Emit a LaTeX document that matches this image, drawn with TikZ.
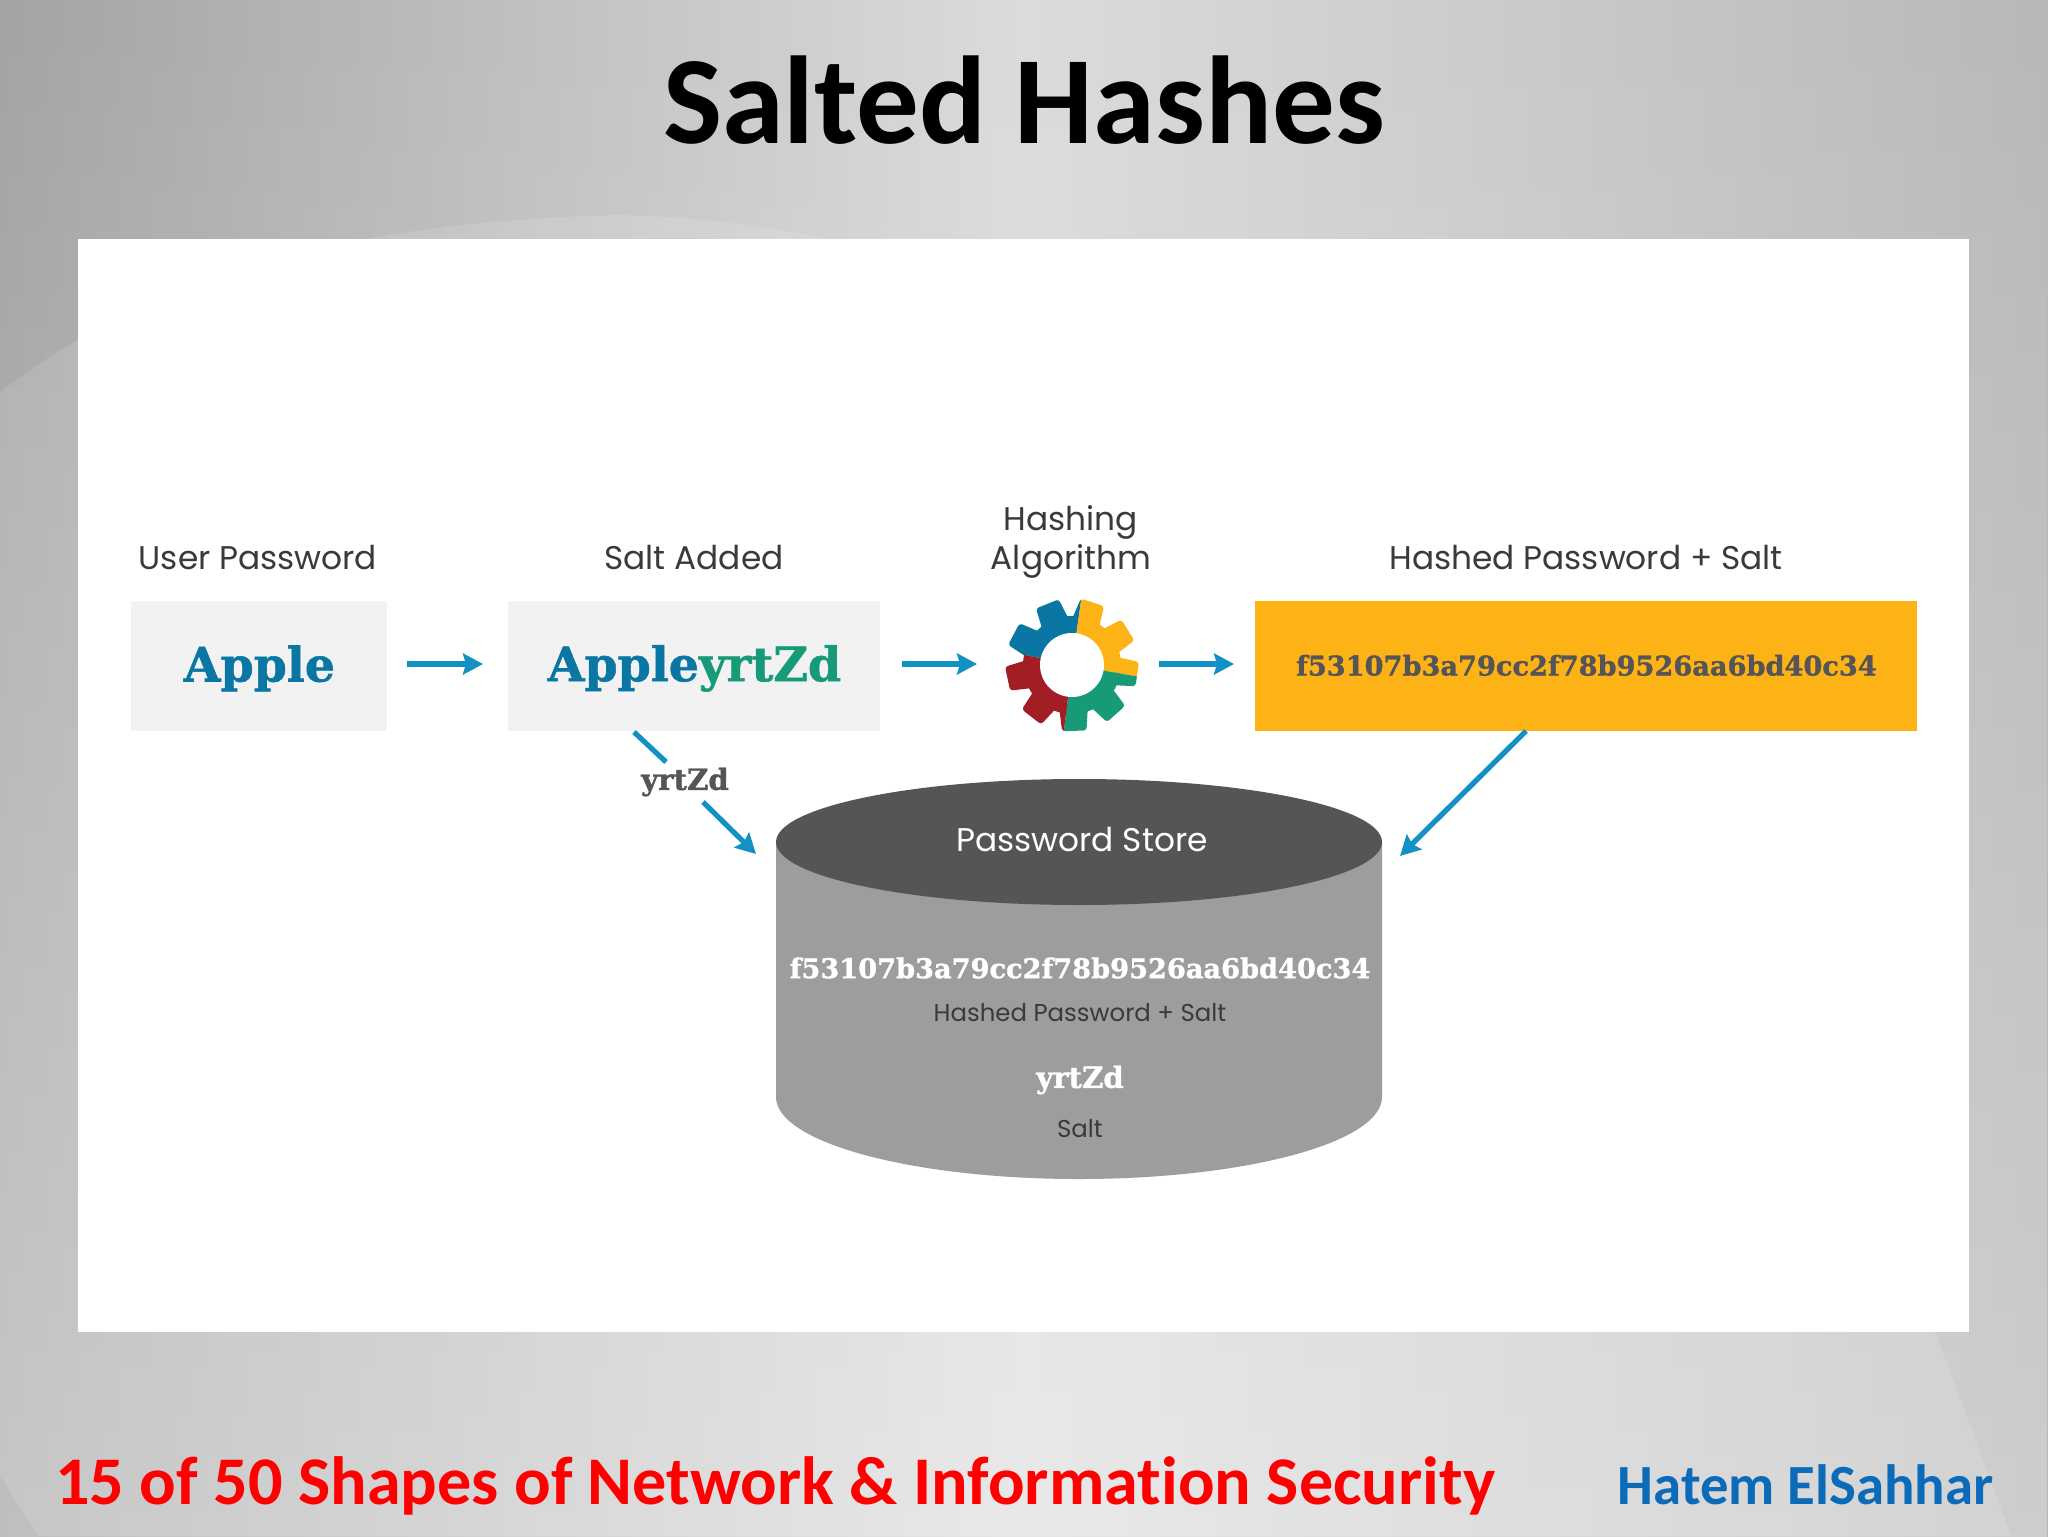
\documentclass[tikz,border=0pt]{standalone}
\usepackage{fontspec}
\setmainfont[Ligatures=NoCommon]{Carlito}
\newfontfamily\labfont{Poppins}
\newfontfamily\slabfont[BoldFeatures={FakeBold=1.2}]{DejaVu Serif}
\usetikzlibrary{arrows.meta,fadings}
\definecolor{arrowblue}{HTML}{1292C4}
\definecolor{appleblue}{HTML}{0A76A4}
\definecolor{saltgreen}{HTML}{169A78}
\definecolor{boxgrey}{HTML}{F2F2F3}
\definecolor{hashyellow}{HTML}{FDB316}
\definecolor{cyldark}{HTML}{555557}
\definecolor{cylside}{HTML}{9D9C9F}
\definecolor{gearred}{HTML}{A31D24}
\definecolor{labeltext}{HTML}{3A3A3C}
\definecolor{footblue}{HTML}{0B6BB8}
\tikzset{
 x=0.5pt,y=-0.5pt,
 lab/.style={font=\labfont\fontsize{16.4}{19.6}\selectfont,text=labeltext,align=center,inner sep=0pt},
 smalllab/.style={font=\labfont\fontsize{12.2}{14}\selectfont,text=labeltext,align=center,inner sep=0pt},
 slab/.style={font=\slabfont\bfseries\fontsize{23.7}{28}\selectfont,inner sep=0pt},
 hash/.style={font=\slabfont\bfseries\fontsize{13.6}{16}\selectfont,inner sep=0pt},
 shortslab/.style={font=\slabfont\bfseries\fontsize{14.6}{17}\selectfont,inner sep=0pt},
 pbox/.style={fill=boxgrey,draw=none,inner sep=0pt,anchor=north west},
 flow/.style={draw=arrowblue,line width=2.6pt,-{Stealth[length=10pt,width=10.5pt,inset=1.5pt]}},
 flowplain/.style={draw=arrowblue,line width=2.6pt},
}
\newcommand{\gearsector}[3]{%
  \begin{scope}
    \clip (0,0) -- (#1:100) -- ({(#1+#2)/2}:160) -- (#2:100) -- cycle;
    \fill[#3] (0,0) circle[radius=24.5pt];
    \foreach \a in {72,32,-8,-48,-88,-128,-168,152,112}{%
      \fill[#3,rounded corners=1.5pt] (\a-18:46) -- (\a-10.5:67) -- (\a+10.5:67) -- (\a+18:46) -- cycle;
    }%
  \end{scope}%
}
\begin{document}
\begin{tikzpicture}
\useasboundingbox (0,0) rectangle (2048,1536);
% background
\shade[left color=black!36,right color=black!28,middle color=black!14] (0,0) rectangle (2048,1536);
\fill[white,opacity=.13] (0,392) .. controls (120,300) and (300,222) .. (620,215) .. controls (900,222) and (1150,320) .. (1500,600) .. controls (1750,820) and (1850,1100) .. (2011,1536) -- (39,1536) .. controls (20,1510) and (10,1490) .. (0,1476) -- cycle;
\fill[white,path fading=north,opacity=.3] (0,0) rectangle (2048,1536);
% panel
\fill[white] (78,239) rectangle (1969,1332);
% title
\node[inner sep=0pt,font=\bfseries\fontsize{62.5}{66}\selectfont,text=black] (title) at (1024,100) {Salted Hashes};
% labels
\node[lab] (lu) at (258,558) {User Password};
\node[lab] (ls) at (694,558) {Salt Added};
\node[lab] (lh) at (1071,542) {Hashing\\Algorithm};
\node[lab] (lr) at (1586,558) {Hashed Password + Salt};
% boxes
\node[pbox,minimum width=128pt,minimum height=65pt] (apple) at (131,601) {};
\node[pbox,minimum width=186pt,minimum height=65pt] (salted) at (508,601) {};
\node[pbox,fill=hashyellow,minimum width=331pt,minimum height=65pt] (hashed) at (1255,601) {};
\node[slab,text=appleblue,yshift=-1pt] (t1) at (apple.center) {Apple};
\node[slab,text=appleblue,yshift=-1pt] (t2) at (salted.center) {Apple\textcolor{saltgreen}{yrtZd}};
\node[hash,text=cyldark,yshift=.5pt] (t3) at (hashed.center) {f53107b3a79cc2f78b9526aa6bd40c34};
% gear
\coordinate (gear) at (1072,665);
\begin{scope}[shift={(gear)},yscale=-1]
  \gearsector{82}{168}{appleblue}
  \gearsector{-10}{82}{hashyellow}
  \gearsector{-97}{-10}{saltgreen}
  \gearsector{-192}{-97}{gearred}
  \fill[white] (0,0) circle[radius=16pt];
\end{scope}
% store
\coordinate (storetop) at (1079,842);
\path[fill=cylside] (776,842) -- (776,1097) arc[start angle=180,end angle=360,x radius=151.5pt,y radius=41pt] -- (1382,842) -- cycle;
\fill[cyldark] (storetop) ellipse[x radius=151.5pt,y radius=31.5pt];
\node[lab,text=white] (st) at (1082,839) {Password Store};
\node[hash,text=white] (h2) at (1080,968) {f53107b3a79cc2f78b9526aa6bd40c34};
\node[smalllab] (h2l) at (1080,1013) {Hashed Password + Salt};
\node[shortslab,text=white] (s2) at (1080,1080) {yrtZd};
\node[smalllab] (s2l) at (1080,1129) {Salt};
\node[shortslab,text=cyldark] (y) at (685,782) {yrtZd};
% connectors
\coordinate (ua) at (407,664); \coordinate (ub) at (483,664);
\coordinate (va) at (902,664); \coordinate (vb) at (977,664);
\coordinate (wa) at (1159,664); \coordinate (wb) at (1234,664);
\coordinate (ya) at (634,732); \coordinate (yb) at (666,762);
\coordinate (yc) at (703,802); \coordinate (yd) at (756,854);
\coordinate (za) at (1526,731); \coordinate (zb) at (1400,856);
\draw[flow] (ua) -- (ub);
\draw[flow] (va) -- (vb);
\draw[flow] (wa) -- (wb);
\draw[flowplain] (ya) -- (yb);
\draw[flow] (yc) -- (yd);
\draw[flow] (za) -- (zb);
% footer
\node[anchor=west,inner sep=0pt,font=\bfseries\fontsize{34.1}{38}\selectfont,text=red] (f1) at (55,1486) {15 of 50 Shapes of Network \& Information Security};
\node[anchor=east,inner sep=0pt,font=\bfseries\fontsize{28.4}{32}\selectfont,text=footblue] (f2) at (1994,1485) {Hatem ElSahhar};
\end{tikzpicture}
\end{document}
